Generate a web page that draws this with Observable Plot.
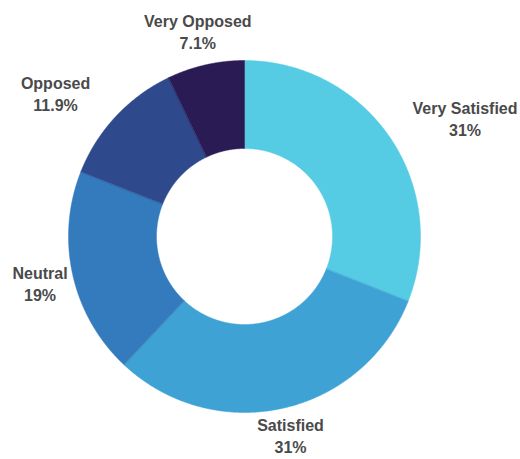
<!DOCTYPE html>
<html>
<head>
<meta charset="utf-8">
<script src="https://cdn.jsdelivr.net/npm/d3@7"></script>
<script src="https://cdn.jsdelivr.net/npm/@observablehq/plot@0.6"></script>
<style>
  html, body { margin: 0; padding: 0; background: #ffffff; }
</style>
</head>
<body>
<div id="chart"></div>
<script>
const categories = ["Very Satisfied", "Satisfied", "Neutral", "Opposed", "Very Opposed"];
const values = [31, 31, 19, 11.9, 7.1];
const valueLabels = ["31%", "31%", "19%", "11.9%", "7.1%"];
const colors = ["#55cce3", "#3ea2d4", "#347bbe", "#2e4a8c", "#2b1b55"];

const W = 520, H = 459;
const cx = 244, cy = 236;          // ring centre in pixels
const outerR = 176, innerR = 88, labelR = 211;
const fontSpec = "bold 16px 'Liberation Sans', Arial, Helvetica, sans-serif";

const arcs = d3.pie().sort(null).value(d => d)(values);

// polygon points for each slice (angle 0 at top, clockwise)
const pts = [];
arcs.forEach((a, i) => {
  const n = Math.max(8, Math.ceil((a.endAngle - a.startAngle) / 0.005));
  for (let k = 0; k <= n; k++) {
    const t = a.startAngle + (a.endAngle - a.startAngle) * k / n;
    pts.push({cat: categories[i], x: outerR * Math.sin(t), y: outerR * Math.cos(t)});
  }
  for (let k = n; k >= 0; k--) {
    const t = a.startAngle + (a.endAngle - a.startAngle) * k / n;
    pts.push({cat: categories[i], x: innerR * Math.sin(t), y: innerR * Math.cos(t)});
  }
});

// label positions outside the ring
const ctx = document.createElement("canvas").getContext("2d");
ctx.font = fontSpec;
const labelData = arcs.map((a, i) => {
  const mid = (a.startAngle + a.endAngle) / 2;
  const s = Math.sin(mid), c = Math.cos(mid);
  const w = Math.max(ctx.measureText(categories[i]).width, ctx.measureText(valueLabels[i]).width);
  let x = labelR * s;
  if (s > 0.5) x += w / 2; else if (s < -0.5) x -= w / 2;
  // keep inside the canvas
  const minX = 12 - cx + w / 2, maxX = (W - 3) - cx - w / 2;
  x = Math.min(maxX, Math.max(minX, x));
  let y = labelR * c;
  const minY = (cy - H) + 25;      // keep the lower line above the bottom edge
  y = Math.max(minY, y);
  return {text: categories[i] + "\n" + valueLabels[i], x, y};
});

const chart = Plot.plot({
  width: W,
  height: H,
  margin: 0,
  x: {domain: [-cx, W - cx], axis: null},
  y: {domain: [cy - H, cy], axis: null},
  color: {domain: categories, range: colors},
  style: {background: "#ffffff", fontFamily: "'Liberation Sans', Arial, Helvetica, sans-serif"},
  marks: [
    Plot.line(pts, {x: "x", y: "y", z: "cat", fill: "cat", stroke: "cat", strokeWidth: 0.5, curve: "linear-closed"}),
    Plot.text(labelData, {
      x: "x", y: "y", text: "text",
      fontSize: 16, fontWeight: "bold", fill: "#4a4a4a",
      lineHeight: 1.375, textAnchor: "middle"
    })
  ]
});
document.getElementById("chart").appendChild(chart);
</script>
</body>
</html>
